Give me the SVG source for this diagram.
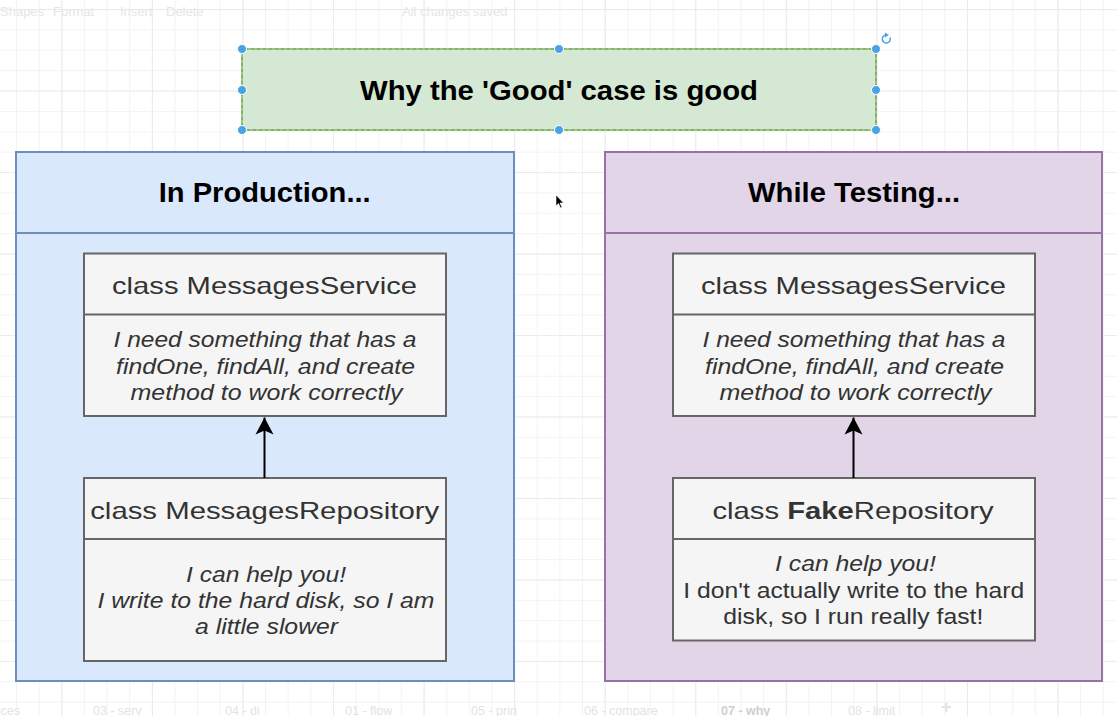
<svg xmlns="http://www.w3.org/2000/svg" width="1117" height="716" viewBox="0 0 1117 716">
<style>
.ui{font-family:"Liberation Sans",Arial,sans-serif;font-size:13px;fill:#e6e6e6}
.tab{font-family:"Liberation Sans",Arial,sans-serif;font-size:12.5px;fill:#e3e3e3}
.hdr{font-family:"Liberation Sans",Arial,sans-serif;font-size:28px;font-weight:bold;fill:#000;text-anchor:middle}
.cls{font-family:"Liberation Sans",Arial,sans-serif;font-size:24px;fill:#333;text-anchor:middle}
.body{font-family:"Liberation Sans",Arial,sans-serif;font-size:22px;fill:#333;text-anchor:middle}
.it{font-style:italic}
.box{fill:#f5f5f5;stroke:#666;stroke-width:2}
.handle{fill:#47a3e6;stroke:#fff;stroke-width:1}
</style>
<defs>
<pattern id="gmin" patternUnits="userSpaceOnUse" x="16" y="9.1" width="22.64" height="20.37">
<path d="M0.5 0V20.37M0 0.5H22.64" stroke="#f3f3f3" stroke-width="1" fill="none"/>
</pattern>
<pattern id="gmaj" patternUnits="userSpaceOnUse" x="61.4" y="9.1" width="90.56" height="81.48">
<path d="M0.5 0V81.48M0 0.5H90.56" stroke="#ebebeb" stroke-width="1" fill="none"/>
</pattern>
<marker id="arr" markerUnits="userSpaceOnUse" markerWidth="20" markerHeight="20" viewBox="-18 -10 20 20" refX="0" refY="0" orient="auto">
<path d="M0,0 L-17,-9 L-13,0 L-17,9 Z" fill="#000"/>
</marker>
</defs>
<rect width="1117" height="716" fill="#fff"/>
<rect width="1117" height="716" fill="url(#gmin)"/>
<rect width="1117" height="716" fill="url(#gmaj)"/>

<g id="toolbar">
<text class="ui" x="0" y="16">Shapes</text>
<text class="ui" x="53" y="16">Format</text>
<text class="ui" x="120" y="16">Insert</text>
<text class="ui" x="166" y="16">Delete</text>
<text class="ui" x="402" y="16">All changes saved</text>
</g>
<g id="tabs">
<text class="tab" x="-2" y="715">ices</text>
<text class="tab" x="93" y="715">03 - serv</text>
<text class="tab" x="225" y="715">04 - di</text>
<text class="tab" x="345" y="715">01 - flow</text>
<text class="tab" x="471" y="715">05 - prin</text>
<text class="tab" x="584" y="715">06 - compare</text>
<text class="tab" x="721" y="715" style="fill:#cfcfcf;font-weight:bold">07 - why</text>
<text class="tab" x="848" y="715">08 - limit</text>
<text class="tab" x="941" y="713" style="font-size:18px;font-weight:bold">+</text>
</g>

<g id="title">
<rect x="242" y="49" width="634" height="81" fill="#d5e8d4" stroke="#82b366" stroke-width="2"/>
<rect x="242" y="49" width="634" height="81" fill="none" stroke="#b9d6a8" stroke-width="1" stroke-dasharray="3 3"/>
<text class="hdr" x="559" y="100" textLength="398" lengthAdjust="spacingAndGlyphs">Why the 'Good' case is good</text>
<circle class="handle" cx="242" cy="49" r="4.5"/>
<circle class="handle" cx="559" cy="49" r="4.5"/>
<circle class="handle" cx="876" cy="49" r="4.5"/>
<circle class="handle" cx="242" cy="90" r="4.5"/>
<circle class="handle" cx="876" cy="90" r="4.5"/>
<circle class="handle" cx="242" cy="130" r="4.5"/>
<circle class="handle" cx="559" cy="130" r="4.5"/>
<circle class="handle" cx="876" cy="130" r="4.5"/>
<path d="M890 37.5 A4 4 0 1 1 886.5 35" fill="none" stroke="#47a3e6" stroke-width="1.5"/>
<path d="M885 32.5 L889 35 L885 37.5 Z" fill="#47a3e6"/>
</g>

<g id="production">
<rect x="16" y="152" width="498" height="529" fill="#dae8fc" stroke="#6c8ebf" stroke-width="2"/>
<line x1="16" y1="233" x2="514" y2="233" stroke="#6c8ebf" stroke-width="2"/>
<text class="hdr" x="264.7" y="202.3" textLength="212" lengthAdjust="spacingAndGlyphs">In Production...</text>
</g>
<g id="testing">
<rect x="605" y="152" width="497" height="529" fill="#e1d5e7" stroke="#9673a6" stroke-width="2"/>
<line x1="605" y1="233" x2="1102" y2="233" stroke="#9673a6" stroke-width="2"/>
<text class="hdr" x="854" y="202.3" textLength="212" lengthAdjust="spacingAndGlyphs">While Testing...</text>
</g>

<g id="prod-service">
<rect class="box" x="84" y="253.5" width="362" height="162.5"/>
<line x1="84" y1="314.5" x2="446" y2="314.5" stroke="#666" stroke-width="2"/>
<text class="cls" x="264.5" y="293.5" textLength="305" lengthAdjust="spacingAndGlyphs">class MessagesService</text>
<text class="body it" x="265" y="347" textLength="303" lengthAdjust="spacingAndGlyphs">I need something that has a</text>
<text class="body it" x="265.5" y="373.5" textLength="299" lengthAdjust="spacingAndGlyphs">findOne, findAll, and create</text>
<text class="body it" x="266.5" y="399.5" textLength="272" lengthAdjust="spacingAndGlyphs">method to work correctly</text>
</g>
<g id="prod-repository">
<rect class="box" x="84" y="478" width="362" height="183"/>
<line x1="84" y1="539" x2="446" y2="539" stroke="#666" stroke-width="2"/>
<text class="cls" x="264.7" y="518.5" textLength="349" lengthAdjust="spacingAndGlyphs">class MessagesRepository</text>
<text class="body it" x="266" y="582" textLength="160" lengthAdjust="spacingAndGlyphs">I can help you!</text>
<text class="body it" x="266" y="608" textLength="337" lengthAdjust="spacingAndGlyphs">I write to the hard disk, so I am</text>
<text class="body it" x="266.5" y="634" textLength="143" lengthAdjust="spacingAndGlyphs">a little slower</text>
</g>

<g id="test-service">
<rect class="box" x="673" y="253.5" width="362" height="162.5"/>
<line x1="673" y1="314.5" x2="1035" y2="314.5" stroke="#666" stroke-width="2"/>
<text class="cls" x="853.5" y="293.5" textLength="305" lengthAdjust="spacingAndGlyphs">class MessagesService</text>
<text class="body it" x="854" y="347" textLength="303" lengthAdjust="spacingAndGlyphs">I need something that has a</text>
<text class="body it" x="854.5" y="373.5" textLength="299" lengthAdjust="spacingAndGlyphs">findOne, findAll, and create</text>
<text class="body it" x="855.5" y="399.5" textLength="272" lengthAdjust="spacingAndGlyphs">method to work correctly</text>
</g>
<g id="test-repository">
<rect class="box" x="673" y="478" width="362" height="162.5"/>
<line x1="673" y1="539" x2="1035" y2="539" stroke="#666" stroke-width="2"/>
<text class="cls" x="853" y="518.5" textLength="281" lengthAdjust="spacingAndGlyphs">class <tspan font-weight="bold">Fake</tspan>Repository</text>
<text class="body it" x="855.5" y="570.5" textLength="161" lengthAdjust="spacingAndGlyphs">I can help you!</text>
<text class="body" x="853.8" y="598" textLength="341" lengthAdjust="spacingAndGlyphs">I don't actually write to the hard</text>
<text class="body" x="853.3" y="623.5" textLength="260" lengthAdjust="spacingAndGlyphs">disk, so I run really fast!</text>
</g>

<g id="connectors">
<line x1="264.5" y1="478" x2="264.5" y2="417.5" stroke="#000" stroke-width="2" marker-end="url(#arr)"/>
<line x1="853.5" y1="478" x2="853.5" y2="417.5" stroke="#000" stroke-width="2" marker-end="url(#arr)"/>
</g>

<g id="cursor">
<path d="M556 195 L556 206 L558.5 203.5 L560.5 208 L562 207.3 L560 203 L563.5 203 Z" fill="#000" stroke="#fff" stroke-width="0.6"/>
</g>
</svg>
